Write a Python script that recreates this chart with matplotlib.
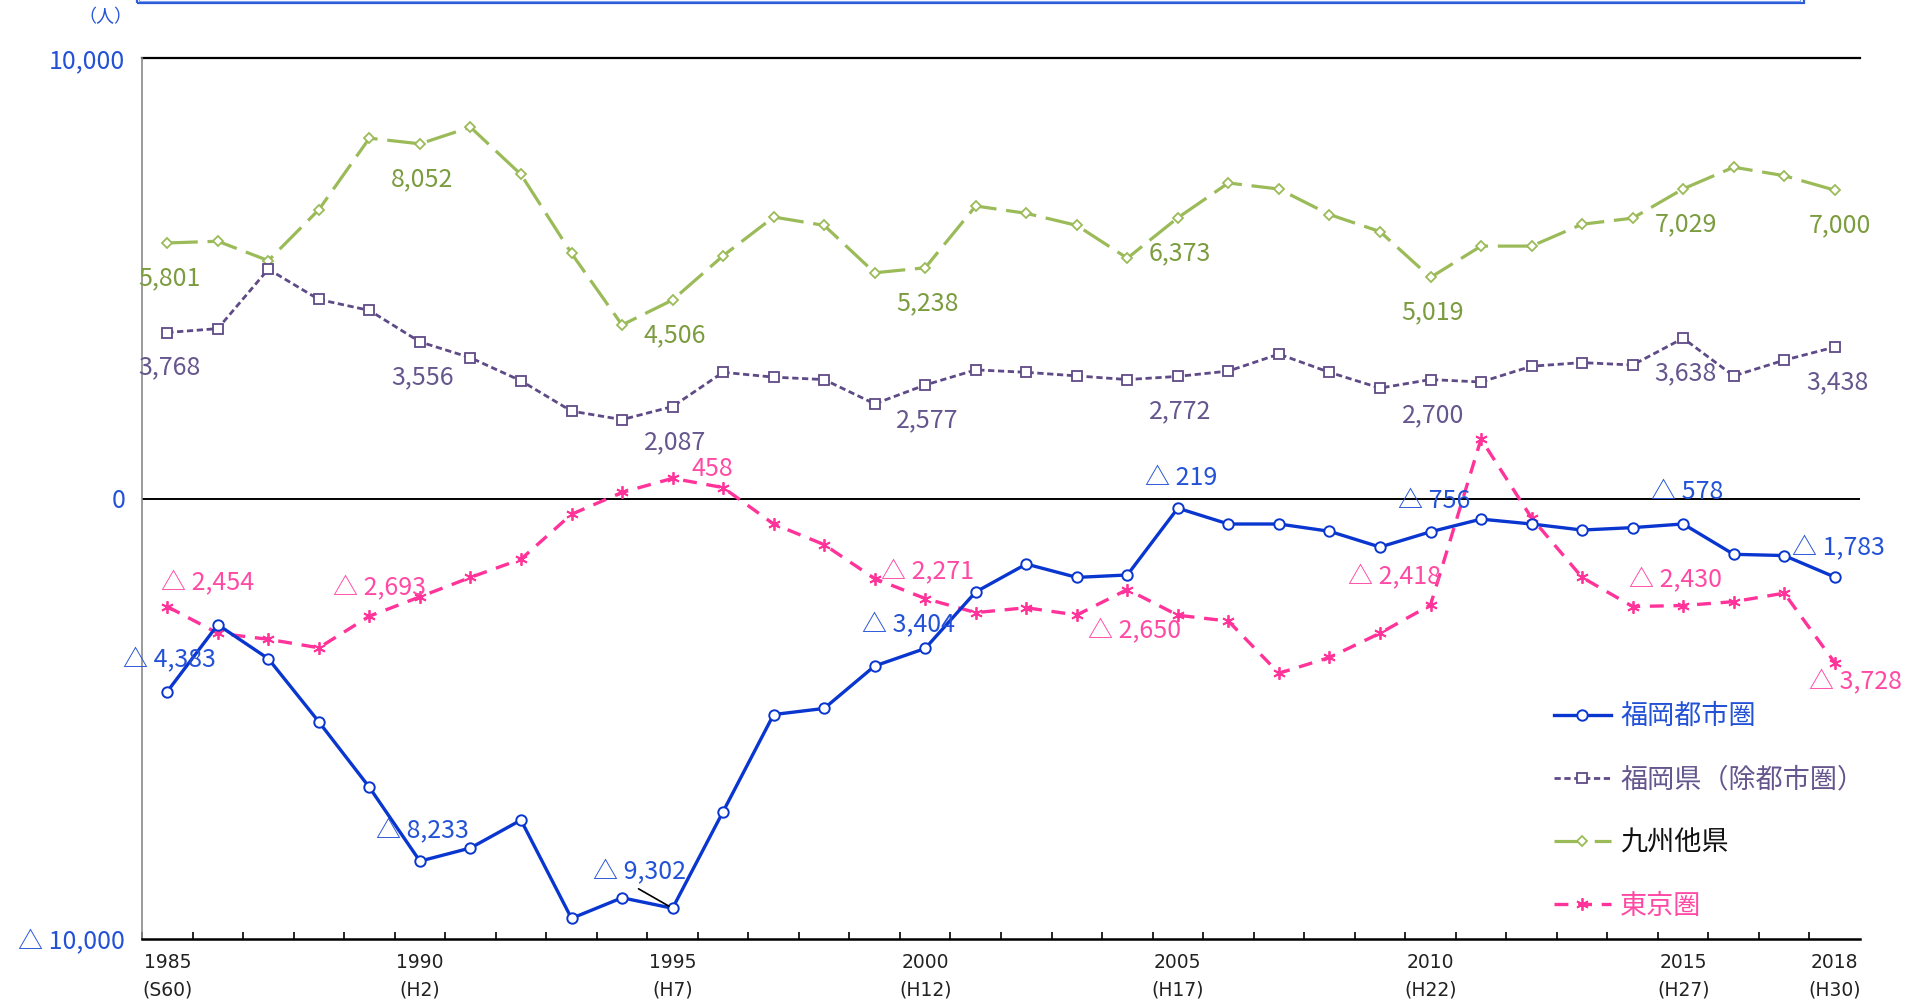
import matplotlib
matplotlib.use("Agg")
import matplotlib.pyplot as plt
from matplotlib.patches import Rectangle

plt.rcParams['font.family'] = ['Noto Sans CJK JP', 'DejaVu Sans']
plt.rcParams['lines.scale_dashes'] = False

years = list(range(1985, 2019))

metro = [-4383, -2865, -3637, -5070, -6557, -8233, -7934, -7300, -9532, -9064,
         -9302, -7108, -4904, -4766, -3802, -3404, -2121, -1488, -1791, -1736,
         -219, -579, -579, -744, -1102, -756, -468, -579, -716, -661,
         -578, -1267, -1295, -1783]

pref_ex = [3768, 3857, 5207, 4518, 4270, 3556, 3196, 2672, 1984, 1791,
           2087, 2865, 2755, 2700, 2149, 2577, 2920, 2865, 2783, 2700,
           2772, 2893, 3278, 2865, 2507, 2700, 2645, 3003, 3085, 3030,
           3638, 2783, 3140, 3438]

kyushu = [5801, 5840, 5400, 6557, 8180, 8052, 8430, 7356, 5565, 3940,
          4506, 5510, 6390, 6200, 5124, 5238, 6640, 6474, 6200, 5455,
          6373, 7163, 7025, 6447, 6060, 5019, 5730, 5730, 6226, 6364,
          7029, 7521, 7328, 7000]

tokyo = [-2454, -3058, -3196, -3389, -2672, -2232, -1791, -1378, -358, 138,
         458, 248, -579, -1047, -1818, -2271, -2590, -2480, -2645, -2066,
         -2650, -2783, -3967, -3609, -3058, -2418, 1350, -441, -1791, -2452,
         -2430, -2342, -2149, -3728]

series_names = ['福岡都市圏', '福岡県（除都市圏）', '九州他県', '東京圏']

label_years = [1985, 1990, 1995, 2000, 2005, 2010, 2015, 2018]
kyushu_labels = ['5,801', '8,052', '4,506', '5,238', '6,373', '5,019', '7,029', '7,000']
pref_labels = ['3,768', '3,556', '2,087', '2,577', '2,772', '2,700', '3,638', '3,438']
metro_labels = ['△ 4,383', '△ 8,233', '△ 9,302', '△ 3,404', '△ 219', '△ 756', '△ 578', '△ 1,783']
tokyo_labels = ['△ 2,454', '△ 2,693', '458', '△ 2,271', '△ 2,650', '△ 2,418', '△ 2,430', '△ 3,728']

xtick_years = [1985, 1990, 1995, 2000, 2005, 2010, 2015, 2018]
xtick_labels = ['1985\n(S60)', '1990\n(H2)', '1995\n(H7)', '2000\n(H12)',
                '2005\n(H17)', '2010\n(H22)', '2015\n(H27)', '2018\n(H30)']
ytick_vals = [-10000, 0, 10000]
ytick_labels = ['△ 10,000', '0', '10,000']

C_BLUE = '#0A36D0'
C_BLUE_T = '#2352D6'
C_PURP = '#5E4A86'
C_PURP_T = '#66568E'
C_GREEN = '#9BBB59'
C_GREEN_T = '#7C9C40'
C_PINK = '#FF3399'
C_PINK_T = '#FF4AA5'

W, H = 1905, 1001
fig = plt.figure(figsize=(W / 100, H / 100), dpi=100)
ax = fig.add_axes([142 / W, 1 - 939 / H, (1860 - 142) / W, (939 - 58) / H])

ax.plot(years, kyushu, color=C_GREEN, lw=2.3, dashes=(22, 7), marker='D',
        ms=5.5, mfc='white', mec=C_GREEN, mew=1.3, label=series_names[2], zorder=3)
ax.plot(years, pref_ex, color=C_PURP, lw=2.0, dashes=(4.5, 2.6), marker='s',
        ms=7, mfc='white', mec=C_PURP, mew=1.3, label=series_names[1], zorder=3)
ax.plot(years, tokyo, color=C_PINK, lw=2.4, dashes=(10, 7), marker=(6, 2, 0),
        ms=9, mfc=C_PINK, mec=C_PINK, mew=1.3, label=series_names[3], zorder=3)
ax.plot(years, metro, color=C_BLUE, lw=2.4, marker='o',
        ms=7.5, mfc='white', mec=C_BLUE, mew=1.4, label=series_names[0], zorder=4)

ax.set_xlim(1984.5, 2018.5)
ax.set_ylim(-10000, 10000)

ax.axhline(0, color='black', lw=1.4, zorder=2)
ax.axhline(10000, color='black', lw=1.6, zorder=2, clip_on=False)

for s in ['top', 'right']:
    ax.spines[s].set_visible(False)
ax.spines['left'].set_color('#8a8a8a')
ax.spines['left'].set_linewidth(1.2)
ax.spines['bottom'].set_color('black')
ax.spines['bottom'].set_linewidth(1.8)

ax.set_xticks(xtick_years)
ax.set_xticklabels(xtick_labels, family=['Liberation Sans Narrow', 'DejaVu Sans'],
                   fontsize=13.5, linespacing=1.55, color='#222222')
ax.set_xticks([y + 0.5 for y in range(1984, 2018)], minor=True)
ax.tick_params(axis='x', which='major', length=0, pad=10)
ax.tick_params(axis='x', which='minor', direction='in', length=5, width=1.2, color='black')

ax.set_yticks(ytick_vals)
ax.set_yticklabels(ytick_labels, fontsize=18, color=C_BLUE_T)
ax.tick_params(axis='y', length=0, pad=12)

FS = 18

def px(dx, dy):
    return (dx * 1.215, -dy * 1.215)

def label_series(vals, texts, offsets, color):
    for yr, t, (dx, dy) in zip(label_years, texts, offsets):
        v = vals[years.index(yr)]
        ax.annotate(t, (yr, v), xytext=px(dx, dy), textcoords='offset pixels',
                    ha='center', va='center', fontsize=FS, color=color, zorder=6)

label_series(kyushu, kyushu_labels, [(2, 29)] * 7 + [(4, 29)], C_GREEN_T)
label_series(pref_ex, pref_labels, [(2, 29)] * 8, C_PURP_T)

metro_off = [(2, -26), (2, -25), (-27, -30), (-14, -19), (3, -25), (3, -25), (3, -26), (3, -24)]
for yr, t, (dx, dy) in zip(label_years, metro_labels, metro_off):
    v = metro[years.index(yr)]
    ax.annotate(t, (yr, v), xytext=px(dx, dy), textcoords='offset pixels',
                ha='center', va='center', fontsize=FS, color=C_BLUE_T, zorder=6)
    if yr == 1995:
        ax.annotate('', (yr, v), xytext=px(-28, -16), textcoords='offset pixels',
                    arrowprops=dict(arrowstyle='-', color='black', lw=1.2,
                                    shrinkA=0, shrinkB=3), zorder=5)

tokyo_off = [(33, -19), (-33, -7), (33, -8), (2, -22), (-36, 13), (-30, -23), (-6, -21), (17, 16)]
label_series(tokyo, tokyo_labels, tokyo_off, C_PINK_T)

handles, labels = ax.get_legend_handles_labels()
order = [3, 1, 0, 2]
leg = ax.legend([handles[i] for i in order], [labels[i] for i in order],
                loc='upper left', bbox_to_anchor=(1554 / W, 1 - 703 / H),
                bbox_transform=fig.transFigure, frameon=False, fontsize=19.5,
                handlelength=2.1, handletextpad=0.35, labelspacing=1.34,
                borderaxespad=0, borderpad=0)
for txt, c in zip(leg.get_texts(), [C_BLUE_T, C_PURP_T, '#111111', C_PINK_T]):
    txt.set_color(c)

fig.text(105 / W, 1 - 17 / H, '（人）', fontsize=13, color=C_BLUE_T, ha='center', va='center')

fig.patches.append(Rectangle((137 / W, 1 - 3 / H), (1804 - 137) / W, 0.02,
                             transform=fig.transFigure, fill=False,
                             edgecolor='#2A5BD8', lw=1.6, clip_on=False))
fig.patches.append(Rectangle((139 / W, 1 - 1 / H), (1800 - 139) / W, 0.02,
                             transform=fig.transFigure, fill=False,
                             edgecolor='#7FA0EE', lw=0.8, clip_on=False))

fig.savefig('out.png', dpi=100)
